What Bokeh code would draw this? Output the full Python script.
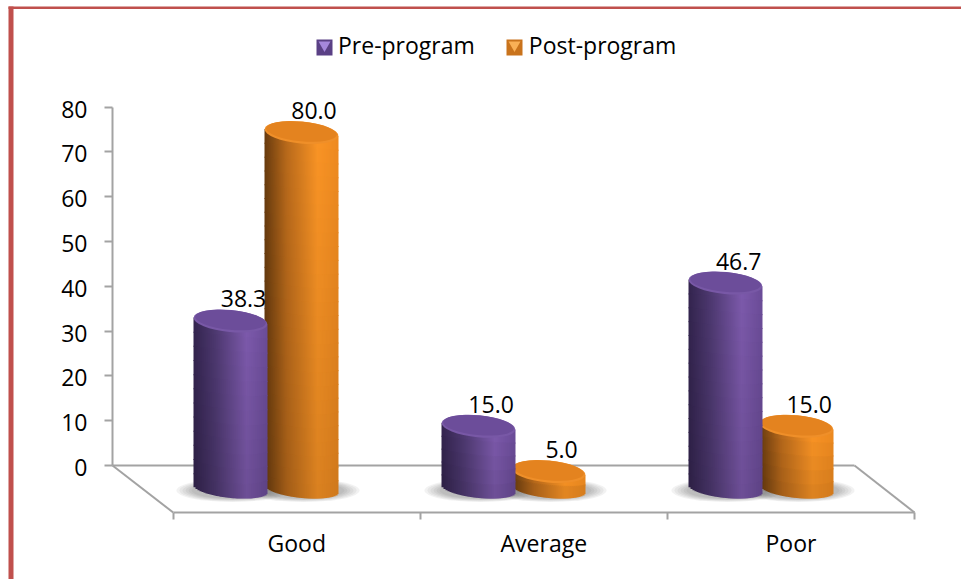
import numpy as np
from bokeh.plotting import figure
from bokeh.models import Range1d, LinearAxis, FixedTicker, Legend, LegendItem, BoxAnnotation, ColumnDataSource
from bokeh.core.properties import value
from bokeh.embed import file_html
from bokeh.resources import INLINE

categories = ["Good", "Average", "Poor"]
pre_program = [38.3, 15.0, 46.7]
post_program = [80.0, 5.0, 15.0]
value_ticks = [0, 10, 20, 30, 40, 50, 60, 70, 80]
series_names = ["Pre-program", "Post-program"]

FONT = "Open Sans"
FS = "23px"
W, H = 961, 579
X0, XU = 172.7, 247.1          # px of category edge 0, px per category
Y0, YU = 465.0, 4.479          # px of value 0 on the axis, px per value
BY0, BYU = 493.6, 4.52         # px mapping of the bars (perspective)
LABEL_SHIFT = 2                # the tick labels sit slightly under their ticks

def ix(px): return (px - X0) / XU
def iy(py): return (Y0 - py) / YU
def ib(py): return (BY0 - py) / BYU

p = figure(width=W, height=H, output_backend="svg", toolbar_location=None,
           x_range=Range1d(ix(0), ix(W)), y_range=Range1d(iy(H), iy(0)),
           x_axis_type=None, y_axis_type=None,
           min_border=0)
p.extra_y_ranges = {"bars": Range1d(ib(H), ib(0)),
                    "ticklabels": Range1d(iy(H - LABEL_SHIFT), iy(-LABEL_SHIFT))}
p.outline_line_color = None
p.background_fill_color = "white"
p.border_fill_color = "white"

GRAY = "#a3a3a3"
yax = LinearAxis(ticker=FixedTicker(ticks=value_ticks), bounds=(0, 80), fixed_location=ix(112))
yax.axis_line_color = GRAY; yax.axis_line_width = 2
yax.major_tick_line_color = GRAY; yax.major_tick_line_width = 2
yax.major_tick_in = 0; yax.major_tick_out = 8
yax.minor_tick_line_color = None
yax.major_label_overrides = {v: "" for v in value_ticks}
p.add_layout(yax, "left")

ylab = LinearAxis(ticker=FixedTicker(ticks=value_ticks), fixed_location=ix(112), y_range_name="ticklabels")
ylab.axis_line_color = None; ylab.major_tick_line_color = None; ylab.minor_tick_line_color = None
ylab.major_tick_in = 0; ylab.major_tick_out = 8
ylab.major_label_standoff = 17
ylab.major_label_text_font = FONT; ylab.major_label_text_font_size = FS
ylab.major_label_text_color = "black"
p.add_layout(ylab, "left")

xax = LinearAxis(ticker=FixedTicker(ticks=[i + 0.5 for i in range(len(categories))],
                                    minor_ticks=list(range(len(categories) + 1))),
                 bounds=(0, len(categories)), fixed_location=iy(512))
xax.major_label_overrides = {i + 0.5: c for i, c in enumerate(categories)}
xax.axis_line_color = GRAY; xax.axis_line_width = 2
xax.major_tick_line_color = None
xax.minor_tick_line_color = GRAY; xax.minor_tick_line_width = 2
xax.minor_tick_in = 0; xax.minor_tick_out = 7
xax.major_label_standoff = 7
xax.major_label_text_font = FONT; xax.major_label_text_font_size = FS
xax.major_label_text_color = "black"
p.add_layout(xax, "below")

# floor
fl, fr = ix(112), ix(854)
fy = iy(512)
p.line([fl, fr], [0, 0], line_color=GRAY, line_width=2)
p.line([fl, 0], [0, fy], line_color=GRAY, line_width=2)
p.line([fr, len(categories)], [0, fy], line_color=GRAY, line_width=2)

PURPLE = [(0, "#33244e"), (0.3, "#4e3971"), (0.72, "#7d5aac"), (1, "#6b4c98")]
ORANGE = [(0, "#683b0e"), (0.3, "#b96a1b"), (0.72, "#fa9425"), (1, "#ee8a20")]

def rgb(h): return np.array([int(h[i:i + 2], 16) for i in (1, 3, 5)], float)
def shade(stops, t, k):
    ts = [s[0] for s in stops]
    cs = np.array([rgb(s[1]) for s in stops])
    c = [np.interp(t, ts, cs[:, j]) * k for j in range(3)]
    return "#%02x%02x%02x" % tuple(int(round(min(255, v))) for v in c)

BASE_PY, B_SEMI, TILT = 488.0, 9.5, 7.0 / 74
SHADOW_PY = 490.0

def shadow(center_px, w):
    for k in range(6):
        p.ellipse([ix(center_px + 2)], [ib(SHADOW_PY)], width=w + 38 - k * 6, height=23 - k * 1.4,
                  width_units="screen", height_units="screen", y_range_name="bars",
                  fill_color="#555555", fill_alpha=0.08, line_color=None, level="underlay")

def cylinder(left_px, w, val, stops, rim, top):
    center_px = left_px + w / 2
    cx = ix(center_px)
    left, right, tp, bt, col = [], [], [], [], []
    top_py = BY0 - val * BYU
    step = 2
    n_rows = max(2, int((BASE_PY - top_py) / 14) + 1)
    for px in range(left_px, left_px + w, step):
        pr = min(px + step, left_px + w)
        mid = (px + pr) / 2 - center_px
        t = (mid + w / 2) / w
        arc = B_SEMI * np.sqrt(max(0.0, 1 - (2 * mid / w) ** 2))
        y_top = top_py + TILT * mid
        y_bot = BASE_PY + TILT * mid + arc
        edges = np.linspace(y_top, y_bot, n_rows + 1)
        for r in range(n_rows):
            f = (r + 0.5) / n_rows
            # each cell overlaps its neighbours so that no seam shows
            left.append(ix(px)); right.append(ix(min(pr + 1, left_px + w)))
            tp.append(ib(edges[r])); bt.append(ib(edges[r + 1] + (1 if r < n_rows - 1 else 0)))
            col.append(shade(stops, t, 1.0 - 0.13 * f))
    src = ColumnDataSource(dict(left=left, right=right, top=tp, bottom=bt, color=col))
    p.quad(left="left", right="right", top="top", bottom="bottom", source=src,
           y_range_name="bars", fill_color="color", line_color=None)
    ang = -np.arctan(TILT)
    p.ellipse([cx], [val], width=w, height=22, angle=ang, width_units="screen", height_units="screen",
              y_range_name="bars", fill_color=rim, line_color=None)
    p.ellipse([cx], [ib(top_py - 1)], width=w - 3, height=19.5, angle=ang, width_units="screen",
              height_units="screen", y_range_name="bars", fill_color=top, line_color=None)

PRE_L, POST_L, BAR_STEP = 193, 263.5, 247.6
BAR_W = 74
for i in range(len(categories)):
    shadow(round(PRE_L + i * BAR_STEP) + BAR_W / 2, BAR_W)
    shadow(round(POST_L + i * BAR_STEP) + BAR_W / 2, BAR_W)
# the purple bars stand in front of the orange ones
for i in range(len(categories)):
    cylinder(round(POST_L + i * BAR_STEP), BAR_W, post_program[i], ORANGE, "#ef8f29", "#e4831f")
for i in range(len(categories)):
    cylinder(round(PRE_L + i * BAR_STEP), BAR_W, pre_program[i], PURPLE, "#7858a6", "#6c4d9a")

# value labels
xs, ys, txt = [], [], []
for i in range(len(categories)):
    xs += [ix(PRE_L + i * BAR_STEP + BAR_W / 2), ix(POST_L + i * BAR_STEP + BAR_W / 2)]
    ys += [pre_program[i], post_program[i]]
    txt += ["%.1f" % pre_program[i], "%.1f" % post_program[i]]
lab = ColumnDataSource(dict(x=xs, y=ys, t=txt))
p.text(x="x", y="y", text="t", source=lab, y_range_name="bars", x_offset=13, y_offset=-22,
       text_align="center", text_baseline="middle", text_font=value(FONT),
       text_font_size=FS, text_color="black", level="overlay")

# bevelled legend keys, under the legend's own transparent keys
KEY_X = [324, 514]
KEY_PY = 47
key_cols = [("#5a4085", "#a587dc"), ("#c9731c", "#f9b056")]
for kx, (body, bevel) in zip(KEY_X, key_cols):
    p.scatter([ix(kx)], [iy(KEY_PY)], marker="square", size=16, fill_color=body, line_color=None)
    p.scatter([ix(kx)], [iy(KEY_PY - 2.5)], marker="inverted_triangle", size=12, fill_color=bevel, line_color=None)

# legend
nan = [np.nan]
r1 = p.quad(left=nan, right=nan, top=nan, bottom=nan, fill_color=key_cols[0][0], fill_alpha=0, line_alpha=0)
r2 = p.quad(left=nan, right=nan, top=nan, bottom=nan, fill_color=key_cols[1][0], fill_alpha=0, line_alpha=0)
leg = Legend(items=[LegendItem(label=series_names[0], renderers=[r1]),
                    LegendItem(label=series_names[1], renderers=[r2])],
             orientation="horizontal", location=(316, H - 61),
             padding=0, margin=0, spacing=32, glyph_width=16, glyph_height=16, label_standoff=6,
             label_text_font=FONT, label_text_font_size=FS, label_text_color="black",
             background_fill_alpha=0, border_line_color=None)
p.add_layout(leg, "center")

# outer border of the page, as in the reference
BC = "#c0504d"
p.add_layout(BoxAnnotation(left=8, right=13, top=6, bottom=H, left_units="canvas", right_units="canvas",
                           top_units="canvas", bottom_units="canvas", fill_color=BC, fill_alpha=1,
                           line_alpha=0, level="overlay"))
p.add_layout(BoxAnnotation(left=8, right=W, top=6, bottom=8.5, left_units="canvas", right_units="canvas",
                           top_units="canvas", bottom_units="canvas", fill_color=BC, fill_alpha=1,
                           line_alpha=0, level="overlay"))

open("out.html", "w").write(file_html(p, INLINE))
